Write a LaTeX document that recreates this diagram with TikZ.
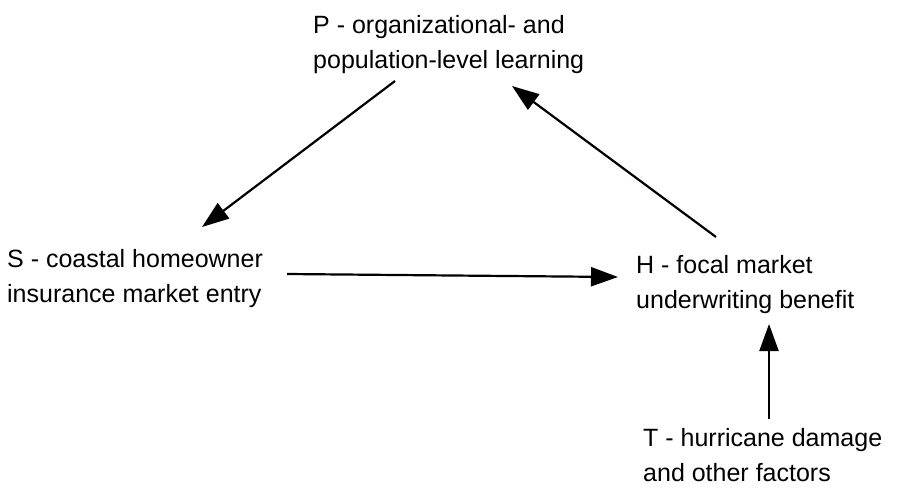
\documentclass[tikz,border=0pt]{standalone}
\usepackage{fontspec}
\setmainfont{Liberation Sans}
\usetikzlibrary{arrows.meta}
\begin{document}
\begin{tikzpicture}[x=1pt,y=-1pt,
  lbl/.style={anchor=base west, align=left, inner sep=0pt, font=\fontsize{25}{35}\selectfont},
  conn/.style={line width=2.2pt, -{Triangle[length=27pt,width=19pt]}}]
\useasboundingbox[fill=white] (0,0) rectangle (901,487);
% base anchor lies on the last line of each label
\node[lbl] (P) at (313,68) {P - organizational- and\\population-level learning};
\node[lbl] (S) at (7,302) {S - coastal homeowner\\insurance market entry};
\node[lbl] (H) at (636,308) {H - focal market\\underwriting benefit};
\node[lbl] (T) at (643,481) {T - hurricane damage\\and other factors};
\coordinate (Pout) at (395,81);
\coordinate (Pin) at (512,86);
\coordinate (Sin) at (202,227);
\coordinate (Sout) at (287,274);
\coordinate (Hin) at (618,277);
\coordinate (Hout) at (716,237);
\coordinate (Hbot) at (769,324);
\coordinate (Ttop) at (769,419);
\draw[conn] (Pout) -- (Sin);
\draw[conn] (Hout) -- (Pin);
\draw[conn] (Sout) -- (Hin);
\draw[conn] (Ttop) -- (Hbot);
\end{tikzpicture}
\end{document}
